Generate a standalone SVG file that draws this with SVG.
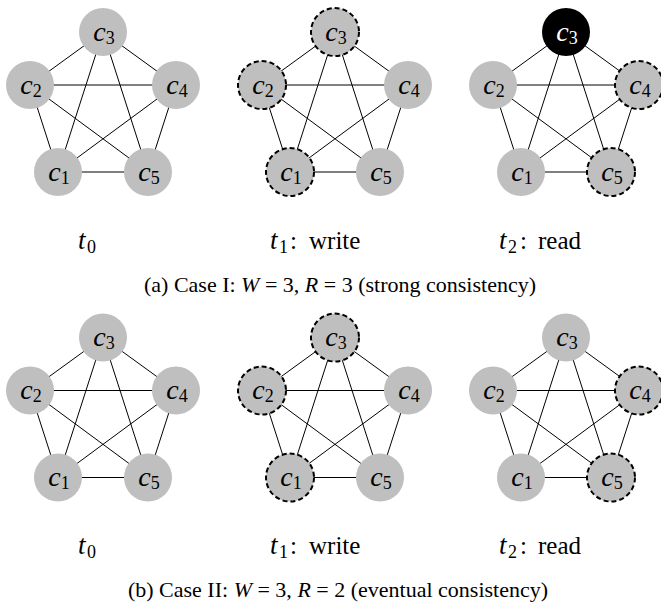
<svg xmlns="http://www.w3.org/2000/svg" width="661" height="603" viewBox="0 0 661 603">
<style>
.e{stroke:#000;stroke-width:1;fill:none}
.n{fill:#bfbfbf}
.d{fill:#bfbfbf;stroke:#000;stroke-width:2;stroke-dasharray:5 3}
.b{fill:#000}
text{font-family:"Liberation Serif","Times New Roman",serif;fill:#000}
.nl{font-size:28px;text-anchor:middle}
.w{fill:#fff}
.it{font-style:italic}
.sub{font-size:18px}
.lbl{font-size:25px}
.tt{font-size:27px;font-style:italic}
.cap{font-size:22px;text-anchor:middle}
</style>
<rect width="661" height="603" fill="#fff"/>

<!-- connectors -->
<g id="connectors" class="e">
  <path d="M58,172L30,85M58,172L103,32M58,172L176,85M58,172L148,172M30,85L103,32M30,85L176,85M30,85L148,172M103,32L176,85M103,32L148,172M176,85L148,172"/>
  <path d="M290,172L262,85M290,172L335,32M290,172L408,85M290,172L380,172M262,85L335,32M262,85L408,85M262,85L380,172M335,32L408,85M335,32L380,172M408,85L380,172"/>
  <path d="M521,172L493,85M521,172L566,32M521,172L639,85M521,172L611,172M493,85L566,32M493,85L639,85M493,85L611,172M566,32L639,85M566,32L611,172M639,85L611,172"/>
  <path d="M58,477.5L30,390.5M58,477.5L103,337.5M58,477.5L176,390.5M58,477.5L148,477.5M30,390.5L103,337.5M30,390.5L176,390.5M30,390.5L148,477.5M103,337.5L176,390.5M103,337.5L148,477.5M176,390.5L148,477.5"/>
  <path d="M290,477.5L262,390.5M290,477.5L335,337.5M290,477.5L408,390.5M290,477.5L380,477.5M262,390.5L335,337.5M262,390.5L408,390.5M262,390.5L380,477.5M335,337.5L408,390.5M335,337.5L380,477.5M408,390.5L380,477.5"/>
  <path d="M521,477.5L493,390.5M521,477.5L566,337.5M521,477.5L639,390.5M521,477.5L611,477.5M493,390.5L566,337.5M493,390.5L639,390.5M493,390.5L611,477.5M566,337.5L639,390.5M566,337.5L611,477.5M639,390.5L611,477.5"/>
</g>

<!-- Top row, panel 1 (t0) -->
<g id="a0-c1"><circle class="n" cx="58" cy="172" r="24"/><text class="nl" x="59" y="180.5"><tspan class="it">c</tspan><tspan class="sub" dy="3">1</tspan></text></g>
<g id="a0-c2"><circle class="n" cx="30" cy="85" r="24"/><text class="nl" x="31" y="93.5"><tspan class="it">c</tspan><tspan class="sub" dy="3">2</tspan></text></g>
<g id="a0-c3"><circle class="n" cx="103" cy="32" r="24"/><text class="nl" x="104" y="40.5"><tspan class="it">c</tspan><tspan class="sub" dy="3">3</tspan></text></g>
<g id="a0-c4"><circle class="n" cx="176" cy="85" r="24"/><text class="nl" x="177" y="93.5"><tspan class="it">c</tspan><tspan class="sub" dy="3">4</tspan></text></g>
<g id="a0-c5"><circle class="n" cx="148" cy="172" r="24"/><text class="nl" x="149" y="180.5"><tspan class="it">c</tspan><tspan class="sub" dy="3">5</tspan></text></g>

<!-- Top row, panel 2 (t1 write) -->
<g id="a1-c1"><circle class="d" cx="290" cy="172" r="24"/><text class="nl" x="291" y="180.5"><tspan class="it">c</tspan><tspan class="sub" dy="3">1</tspan></text></g>
<g id="a1-c2"><circle class="d" cx="262" cy="85" r="24"/><text class="nl" x="263" y="93.5"><tspan class="it">c</tspan><tspan class="sub" dy="3">2</tspan></text></g>
<g id="a1-c3"><circle class="d" cx="335" cy="32" r="24"/><text class="nl" x="336" y="40.5"><tspan class="it">c</tspan><tspan class="sub" dy="3">3</tspan></text></g>
<g id="a1-c4"><circle class="n" cx="408" cy="85" r="24"/><text class="nl" x="409" y="93.5"><tspan class="it">c</tspan><tspan class="sub" dy="3">4</tspan></text></g>
<g id="a1-c5"><circle class="n" cx="380" cy="172" r="24"/><text class="nl" x="381" y="180.5"><tspan class="it">c</tspan><tspan class="sub" dy="3">5</tspan></text></g>

<!-- Top row, panel 3 (t2 read) -->
<g id="a2-c1"><circle class="n" cx="521" cy="172" r="24"/><text class="nl" x="522" y="180.5"><tspan class="it">c</tspan><tspan class="sub" dy="3">1</tspan></text></g>
<g id="a2-c2"><circle class="n" cx="493" cy="85" r="24"/><text class="nl" x="494" y="93.5"><tspan class="it">c</tspan><tspan class="sub" dy="3">2</tspan></text></g>
<g id="a2-c3"><circle class="b" cx="566" cy="32" r="24"/><text class="nl w" x="567" y="40.5"><tspan class="it w">c</tspan><tspan class="sub w" dy="3">3</tspan></text></g>
<g id="a2-c4"><circle class="d" cx="639" cy="85" r="24"/><text class="nl" x="640" y="93.5"><tspan class="it">c</tspan><tspan class="sub" dy="3">4</tspan></text></g>
<g id="a2-c5"><circle class="d" cx="611" cy="172" r="24"/><text class="nl" x="612" y="180.5"><tspan class="it">c</tspan><tspan class="sub" dy="3">5</tspan></text></g>

<!-- Bottom row, panel 1 (t0) -->
<g id="b0-c1"><circle class="n" cx="58" cy="477.5" r="24"/><text class="nl" x="59" y="486"><tspan class="it">c</tspan><tspan class="sub" dy="3">1</tspan></text></g>
<g id="b0-c2"><circle class="n" cx="30" cy="390.5" r="24"/><text class="nl" x="31" y="399"><tspan class="it">c</tspan><tspan class="sub" dy="3">2</tspan></text></g>
<g id="b0-c3"><circle class="n" cx="103" cy="337.5" r="24"/><text class="nl" x="104" y="346"><tspan class="it">c</tspan><tspan class="sub" dy="3">3</tspan></text></g>
<g id="b0-c4"><circle class="n" cx="176" cy="390.5" r="24"/><text class="nl" x="177" y="399"><tspan class="it">c</tspan><tspan class="sub" dy="3">4</tspan></text></g>
<g id="b0-c5"><circle class="n" cx="148" cy="477.5" r="24"/><text class="nl" x="149" y="486"><tspan class="it">c</tspan><tspan class="sub" dy="3">5</tspan></text></g>

<!-- Bottom row, panel 2 (t1 write) -->
<g id="b1-c1"><circle class="d" cx="290" cy="477.5" r="24"/><text class="nl" x="291" y="486"><tspan class="it">c</tspan><tspan class="sub" dy="3">1</tspan></text></g>
<g id="b1-c2"><circle class="d" cx="262" cy="390.5" r="24"/><text class="nl" x="263" y="399"><tspan class="it">c</tspan><tspan class="sub" dy="3">2</tspan></text></g>
<g id="b1-c3"><circle class="d" cx="335" cy="337.5" r="24"/><text class="nl" x="336" y="346"><tspan class="it">c</tspan><tspan class="sub" dy="3">3</tspan></text></g>
<g id="b1-c4"><circle class="n" cx="408" cy="390.5" r="24"/><text class="nl" x="409" y="399"><tspan class="it">c</tspan><tspan class="sub" dy="3">4</tspan></text></g>
<g id="b1-c5"><circle class="n" cx="380" cy="477.5" r="24"/><text class="nl" x="381" y="486"><tspan class="it">c</tspan><tspan class="sub" dy="3">5</tspan></text></g>

<!-- Bottom row, panel 3 (t2 read) -->
<g id="b2-c1"><circle class="n" cx="521" cy="477.5" r="24"/><text class="nl" x="522" y="486"><tspan class="it">c</tspan><tspan class="sub" dy="3">1</tspan></text></g>
<g id="b2-c2"><circle class="n" cx="493" cy="390.5" r="24"/><text class="nl" x="494" y="399"><tspan class="it">c</tspan><tspan class="sub" dy="3">2</tspan></text></g>
<g id="b2-c3"><circle class="n" cx="566" cy="337.5" r="24"/><text class="nl" x="567" y="346"><tspan class="it">c</tspan><tspan class="sub" dy="3">3</tspan></text></g>
<g id="b2-c4"><circle class="d" cx="639" cy="390.5" r="24"/><text class="nl" x="640" y="399"><tspan class="it">c</tspan><tspan class="sub" dy="3">4</tspan></text></g>
<g id="b2-c5"><circle class="d" cx="611" cy="477.5" r="24"/><text class="nl" x="612" y="486"><tspan class="it">c</tspan><tspan class="sub" dy="3">5</tspan></text></g>

<!-- Labels top -->
<g id="labels-a">
  <text class="lbl" x="78" y="249"><tspan class="tt">t</tspan><tspan class="sub" x="87" dy="4">0</tspan></text>
  <text class="lbl" x="270" y="249"><tspan class="tt">t</tspan><tspan class="sub" x="279" dy="4">1</tspan><tspan x="290" dy="-4">:</tspan><tspan x="309">write</tspan></text>
  <text class="lbl" x="499" y="249"><tspan class="tt">t</tspan><tspan class="sub" x="508" dy="4">2</tspan><tspan x="520" dy="-4">:</tspan><tspan x="538">read</tspan></text>
  <text class="cap" x="340" y="292">(a) Case I: <tspan class="it">W</tspan> = 3, <tspan class="it">R</tspan> = 3 (strong consistency)</text>
</g>
<!-- Labels bottom -->
<g id="labels-b">
  <text class="lbl" x="78" y="554"><tspan class="tt">t</tspan><tspan class="sub" x="87" dy="4">0</tspan></text>
  <text class="lbl" x="270" y="554"><tspan class="tt">t</tspan><tspan class="sub" x="279" dy="4">1</tspan><tspan x="290" dy="-4">:</tspan><tspan x="309">write</tspan></text>
  <text class="lbl" x="499" y="554"><tspan class="tt">t</tspan><tspan class="sub" x="508" dy="4">2</tspan><tspan x="520" dy="-4">:</tspan><tspan x="538">read</tspan></text>
  <text class="cap" x="338" y="597">(b) Case II: <tspan class="it">W</tspan> = 3, <tspan class="it">R</tspan> = 2 (eventual consistency)</text>
</g>
</svg>
